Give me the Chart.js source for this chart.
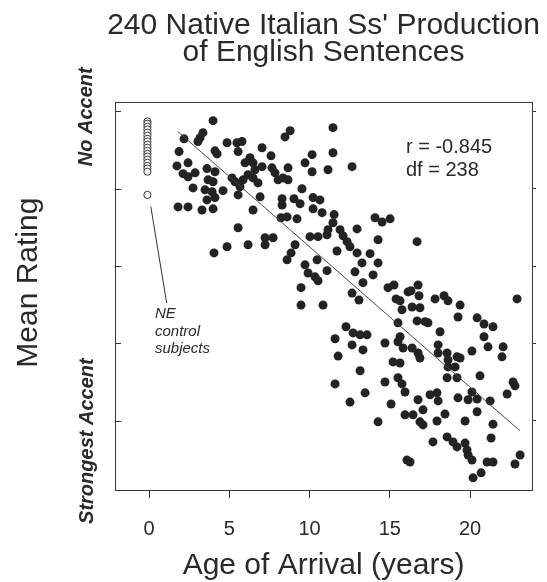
<!DOCTYPE html>
<html>
<head>
<meta charset="utf-8">
<script src="https://cdn.jsdelivr.net/npm/chart.js@4"></script>
<style>
  html, body { margin: 0; padding: 0; background: #ffffff; }
  canvas { display: block; }
</style>
</head>
<body>
<canvas id="c" width="547" height="582"></canvas>
<script>
// ---- data ----
const titleLines = ["240 Native Italian Ss' Production", "of English Sentences"];
const xAxisTitle = "Age of Arrival (years)";
const yAxisTitle = "Mean Rating";
const topAnchorLabel = "No Accent";
const bottomAnchorLabel = "Strongest Accent";
const statLines = ["r = -0.845", "df = 238"];
const controlNoteLines = ["NE", "control", "subjects"];

const xTickValues = [0, 5, 10, 15, 20];
const yTickValues = [1, 3, 5, 7, 9];

// Italian subjects: age of arrival and mean rating
const ages = [
  3.99,3.36,3.18,3.05,2.18,1.87,1.74,2.43,2.12,2.43,2.87,2.74,1.81,2.43,3.30,3.99,
  4.11,4.24,4.86,5.48,5.79,5.55,3.61,4.11,3.68,3.99,3.49,3.93,3.61,4.11,4.61,5.17,
  5.36,5.67,5.86,5.55,5.98,6.29,6.48,6.17,6.48,6.60,6.79,7.04,7.04,6.92,6.48,7.60,
  7.66,7.85,8.04,8.35,8.47,8.79,8.29,8.29,8.22,8.60,5.55,7.23,7.73,7.23,6.17,4.86,
  4.05,8.60,8.85,
  11.46,10.16,9.72,11.46,11.15,10.16,12.65,8.66,8.66,9.53,9.03,9.41,10.22,10.65,10.22,10.78,
  9.22,11.53,11.46,10.03,10.53,11.09,11.15,11.90,12.09,12.34,12.96,14.08,14.52,15.02,14.27,12.52,
  11.71,12.96,13.77,9.10,10.47,13.27,14.27,12.83,13.96,11.09,9.72,9.91,10.34,10.53,9.47,13.33,
  12.65,14.89,15.26,16.14,16.70,13.08,15.39,15.64,
  9.47,10.84,15.76,15.51,12.27,12.71,13.15,13.58,11.59,12.65,13.33,11.78,14.70,15.64,15.51,15.83,
  13.15,15.20,15.64,11.59,14.70,15.51,15.76,15.95,13.46,12.52,15.08,14.27,15.95,16.07,16.26,
  16.76,16.32,16.82,17.82,18.38,18.63,16.39,16.88,19.38,22.93,16.70,17.20,17.38,19.25,20.44,20.87,
  21.43,20.87,21.12,22.06,21.99,18.13,16.39,16.76,16.88,18.01,18.01,18.57,18.63,19.19,19.38,20.12,
  18.63,19.07,18.57,19.19,20.62,22.68,22.80,22.31,17.51,17.94,18.01,16.76,19.25,19.88,20.12,20.44,
  21.25,17.07,16.45,16.88,17.07,17.94,18.44,20.44,19.69,21.43,21.31,17.69,18.57,18.94,19.19,19.69,
  19.81,19.88,20.12,21.06,21.43,22.80,23.12,20.19,20.69
];
const ratings = [
  8.76,8.45,8.32,8.22,8.29,7.96,7.59,7.67,7.39,7.31,7.41,7.02,6.53,6.53,6.45,6.48,
  7.98,7.90,8.19,8.19,8.22,7.96,7.52,7.44,7.23,7.18,6.97,6.92,6.71,6.77,6.95,7.28,
  7.18,7.05,7.23,6.84,7.67,7.80,7.67,7.36,7.28,7.49,7.15,8.06,7.57,6.79,6.45,7.85,
  7.54,7.41,7.23,7.28,8.34,8.50,6.74,6.58,6.25,6.27,5.99,5.73,5.73,5.55,5.55,5.50,
  5.34,5.16,5.34,
  8.58,7.88,7.67,7.93,7.49,7.44,7.57,7.54,7.23,7.00,6.74,6.61,6.77,6.71,6.48,6.38,
  6.22,6.33,6.12,5.76,5.76,5.81,5.94,5.94,5.78,5.63,5.96,6.25,6.14,6.22,5.68,5.50,
  5.39,5.34,5.32,5.55,5.16,5.08,5.08,4.85,4.77,4.88,5.03,4.82,4.72,4.62,4.44,4.57,
  4.30,4.44,4.51,4.33,5.63,4.12,4.15,4.10,
  3.99,3.99,3.87,3.53,3.43,3.27,3.22,3.22,3.12,2.96,2.83,2.67,3.01,3.17,3.04,2.88,
  2.29,2.52,2.49,1.95,2.00,2.11,1.95,1.74,1.72,1.48,1.43,0.97,1.15,-0.02,-0.07,
  4.51,4.36,4.23,4.15,4.23,4.10,3.94,3.92,3.99,4.15,3.58,3.56,3.53,3.68,3.66,3.50,
  3.43,3.17,2.91,2.91,2.65,3.30,2.88,2.75,2.62,2.96,2.75,2.75,2.57,2.65,2.62,2.80,
  2.39,2.39,2.11,2.11,2.16,2.00,1.90,1.69,1.67,1.72,1.51,1.54,1.59,1.54,1.74,1.56,
  1.51,1.28,1.15,0.97,0.89,0.99,1.17,1.23,0.99,0.91,0.55,0.45,0.58,0.45,0.32,0.42,
  0.24,0.11,-0.02,-0.07,-0.07,-0.12,0.11,-0.48,-0.35
];

// Native English controls (age of arrival 0)
const controlAges = [-0.1,-0.1,-0.1,-0.1,-0.1,-0.1,-0.1,-0.1,-0.1,-0.1,-0.1,-0.1,-0.1,-0.1,-0.1,-0.1,-0.1,-0.1,-0.1];
const controlRatings = [8.74,8.68,8.60,8.53,8.45,8.37,8.29,8.22,8.14,8.06,7.98,7.90,7.83,7.75,7.67,7.59,7.52,7.44,6.84];

// regression line end points
const fitAges = [1.79, 23.1];
const fitRatings = [8.48, 0.74];

// pointer from control column to its note
const pointerAges = [0.11, 1.10];
const pointerRatings = [6.54, 4.04];

// ---- build chart ----
const FONT = "'Liberation Sans', Arial, Helvetica, sans-serif";
Chart.defaults.font.family = FONT;
Chart.defaults.color = '#2a2a2a';

const zip = (xs, ys) => xs.map((x, i) => ({ x: x, y: ys[i] }));

const textPlugin = {
  id: 'texts',
  afterDraw(chart) {
    const ctx = chart.ctx;
    const a = chart.chartArea;
    const xs = chart.scales.x, ys = chart.scales.y;
    ctx.save();
    // top border of the frame
    ctx.strokeStyle = '#3a3a3a';
    ctx.lineWidth = 1;
    ctx.beginPath();
    ctx.moveTo(a.left, a.top + 0.5);
    ctx.lineTo(a.right, a.top + 0.5);
    ctx.stroke();
    // inward ticks on the left axis
    ctx.beginPath();
    yTickValues.forEach(v => {
      const py = Math.round(ys.getPixelForValue(v)) + 0.5;
      ctx.moveTo(a.left, py);
      ctx.lineTo(a.left + 6, py);
    });
    ctx.stroke();

    ctx.fillStyle = '#2a2a2a';
    // y axis title
    ctx.save();
    ctx.translate(a.left - 86, ys.getPixelForValue(4.57));
    ctx.rotate(-Math.PI / 2);
    ctx.font = '30px ' + FONT;
    ctx.textAlign = 'center';
    ctx.textBaseline = 'middle';
    ctx.fillText(yAxisTitle, 0, 0);
    ctx.restore();

    // anchor labels
    ctx.font = 'italic bold 20px ' + FONT;
    ctx.textAlign = 'center';
    ctx.textBaseline = 'middle';
    ctx.save();
    ctx.translate(a.left - 29, ys.getPixelForValue(8.86));
    ctx.rotate(-Math.PI / 2);
    ctx.fillText(topAnchorLabel, 0, 0);
    ctx.restore();
    ctx.save();
    ctx.translate(a.left - 28, ys.getPixelForValue(0.47));
    ctx.rotate(-Math.PI / 2);
    ctx.fillText(bottomAnchorLabel, 0, 0);
    ctx.restore();

    // statistics
    ctx.font = '20px ' + FONT;
    ctx.textAlign = 'left';
    ctx.textBaseline = 'alphabetic';
    const sx = xs.getPixelForValue(16.01);
    ctx.fillText(statLines[0], sx, ys.getPixelForValue(7.92));
    ctx.fillText(statLines[1], sx, ys.getPixelForValue(7.34));

    // control note
    ctx.font = 'italic 15px ' + FONT;
    const nx = xs.getPixelForValue(0.37);
    const noteY = [3.66, 3.19, 2.76];
    controlNoteLines.forEach((t, i) => ctx.fillText(t, nx, ys.getPixelForValue(noteY[i])));
    ctx.restore();
  }
};

new Chart(document.getElementById('c'), {
  type: 'scatter',
  data: {
    datasets: [
      {
        label: 'Fit',
        data: zip(fitAges, fitRatings),
        showLine: true,
        borderColor: '#4a4a4a',
        borderWidth: 1,
        pointRadius: 0,
        order: 0
      },
      {
        label: 'Pointer',
        data: zip(pointerAges, pointerRatings),
        showLine: true,
        borderColor: '#333333',
        borderWidth: 1,
        pointRadius: 0,
        order: 1
      },
      {
        label: 'NE controls',
        data: zip(controlAges, controlRatings),
        pointRadius: 3.6,
        pointBorderWidth: 1,
        borderColor: '#333333',
        backgroundColor: '#ffffff',
        order: 2
      },
      {
        label: 'Italian subjects',
        data: zip(ages, ratings),
        pointRadius: 4.5,
        pointBorderWidth: 0,
        borderWidth: 0,
        backgroundColor: '#232323',
        borderColor: '#232323',
        order: 3
      }
    ]
  },
  options: {
    responsive: false,
    animation: false,
    devicePixelRatio: 1,
    layout: { padding: { left: 100, right: 0, top: 0, bottom: 0 } },
    plugins: {
      legend: { display: false },
      tooltip: { enabled: false },
      title: {
        display: true,
        text: titleLines,
        color: '#2a2a2a',
        font: { size: 30, weight: 'normal', lineHeight: 0.9 },
        padding: { top: 12, bottom: 36 }
      }
    },
    scales: {
      x: {
        type: 'linear',
        position: 'bottom',
        min: -2.12,
        max: 23.86,
        afterBuildTicks: s => { s.ticks = xTickValues.map(v => ({ value: v })); },
        afterFit: s => { s.height = 92; },
        grid: { drawOnChartArea: false, drawTicks: true, tickLength: 8, color: '#333333' },
        border: { display: true, color: '#3a3a3a', width: 1 },
        ticks: { color: '#2a2a2a', font: { size: 20, lineHeight: 1.2 }, padding: 19, maxRotation: 0 },
        title: {
          display: true,
          text: xAxisTitle,
          color: '#2a2a2a',
          font: { size: 30, lineHeight: 1 },
          padding: { top: 0, bottom: 1 }
        }
      },
      y: {
        type: 'linear',
        position: 'left',
        min: -0.794,
        max: 9.243,
        afterBuildTicks: s => { s.ticks = yTickValues.map(v => ({ value: v })); },
        afterFit: s => { s.width = 15; },
        grid: { drawOnChartArea: false, drawTicks: false },
        border: { display: true, color: '#3a3a3a', width: 1 },
        ticks: { display: false }
      },
      y2: {
        type: 'linear',
        position: 'right',
        min: -0.794,
        max: 9.243,
        afterBuildTicks: s => { s.ticks = yTickValues.map(v => ({ value: v })); },
        afterFit: s => { s.width = 15; },
        grid: { drawOnChartArea: false, drawTicks: true, tickLength: 4, color: '#333333' },
        border: { display: true, color: '#3a3a3a', width: 1 },
        ticks: { display: false }
      }
    }
  },
  plugins: [textPlugin]
});
</script>
</body>
</html>
